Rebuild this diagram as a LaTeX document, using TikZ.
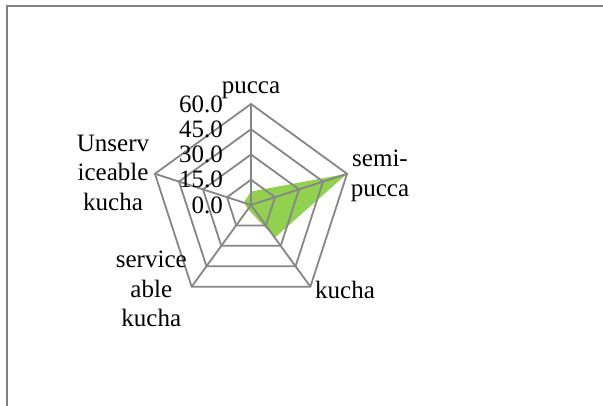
\documentclass[tikz,border=0pt]{standalone}
\usepackage{fontspec}
\setmainfont{Liberation Serif}
\usetikzlibrary{calc}
\definecolor{gridgray}{RGB}{134,134,134}
\definecolor{framegray}{RGB}{128,128,128}
\definecolor{seriesgreen}{RGB}{146,208,80}
\newcommand{\rr}{1.6833}

\tikzset{
  gridline/.style={draw=gridgray, line width=1.8pt, line join=miter},
  catlabel/.style={font=\fontsize{25}{29.5}\selectfont, align=center, inner sep=0pt, anchor=base},
  ticklabel/.style={font=\fontsize{25}{29.5}\selectfont, anchor=east, inner sep=0pt}
}

\begin{document}
\begin{tikzpicture}[x=1pt, y=1pt]
\useasboundingbox (0,0) rectangle (603,406);

% chart frame
\draw[framegray, line width=2pt] (7.3,-10) -- (7.3,399.7) -- (613,399.7);

\begin{scope}[shift={(251,201)}]

% data series
\fill[seriesgreen] (90:8*\rr) -- (18:60*\rr) -- (-54:24*\rr) -- (-126:3*\rr) -- (162:4.5*\rr) -- cycle;

% rings and spokes
\foreach \v in {15,30,45,60}
  \draw[gridline] (90:\v*\rr) -- (18:\v*\rr) -- (-54:\v*\rr) -- (-126:\v*\rr) -- (162:\v*\rr) -- cycle;
\foreach \a in {90,18,-54,-126,162}
  \draw[gridline] (0,0) -- (\a:60*\rr);

% scale
\foreach \v/\t in {0/0.0,15/15.0,30/30.0,45/45.0,60/60.0}
  \node[ticklabel] (tick\v) at (-28,\v*\rr) {\t};

% categories (base = last line)
\node[catlabel] (pucca) at (0,111.7) {pucca};
\node[catlabel] (semipucca) at (129,8.5) {semi-\\pucca};
\node[catlabel] (kucha) at (94,-93.3) {kucha};
\node[catlabel] (servkucha) at (-99.7,-122) {service\\able\\kucha};
\node[catlabel] (unservkucha) at (-138,-5.5) {Unserv\\iceable\\kucha};

\end{scope}
\end{tikzpicture}
\end{document}
